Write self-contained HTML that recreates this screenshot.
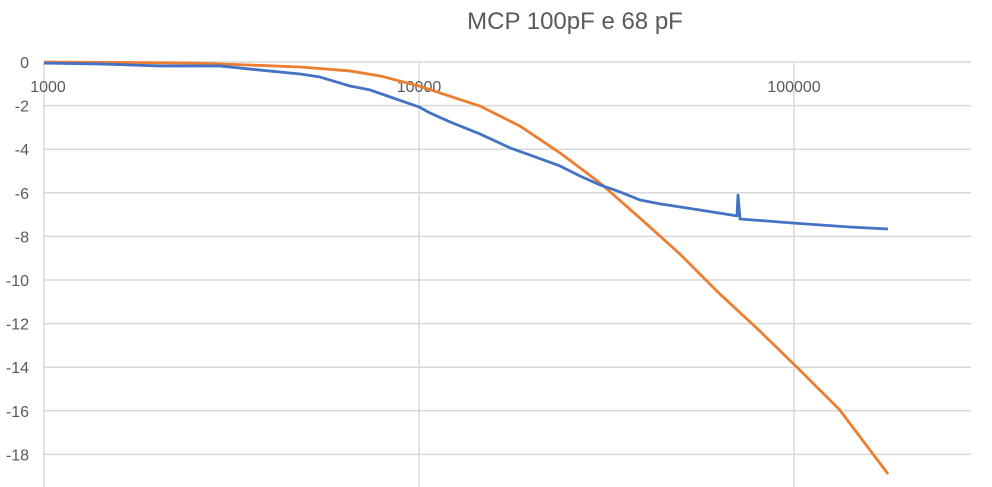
<!DOCTYPE html>
<html><head><meta charset="utf-8"><style>
body{margin:0;background:#fff;}
svg{display:block;font-family:"Liberation Sans",sans-serif;}
</style></head><body>
<svg id="chart" width="992" height="487"></svg>
<script>
const blueFreq=[1000,1410,2036,2943,3767,4822,5445,6546,7397,8366,10000,10700,12100,14540,17500,19770,23770,26860,30400,34360,38830,43950,56100,70470,70900,71800,100000,140900,178100];
const blueDb=[-0.05,-0.09,-0.18,-0.18,-0.37,-0.55,-0.69,-1.1,-1.28,-1.6,-2.06,-2.34,-2.75,-3.3,-3.94,-4.27,-4.77,-5.23,-5.64,-5.96,-6.33,-6.51,-6.79,-7.06,-6.1,-7.2,-7.39,-7.57,-7.66];
const orangeFreq=[1000,2606,4822,6546,7872,10000,11370,14540,18600,23770,30400,38830,49640,63420,81060,103600,132400,178100];
const orangeDb=[0,-0.05,-0.23,-0.41,-0.64,-1.1,-1.42,-2.02,-2.94,-4.17,-5.55,-7.16,-8.81,-10.64,-12.34,-14.13,-15.96,-18.9];
const yTicks=[0,-2,-4,-6,-8,-10,-12,-14,-16,-18];
const xTicks=[1000,10000,100000];
const NS="http://www.w3.org/2000/svg";
const svg=document.getElementById('chart');
const X=f=>44+(Math.log10(f)-3)*375;
const Y=v=>62-v*21.8;
function mk(t,a){const e=document.createElementNS(NS,t);for(const k in a)e.setAttribute(k,a[k]);svg.appendChild(e);return e;}
let t=mk('text',{x:575,y:29,'text-anchor':'middle','font-size':24,fill:'#595959'});t.textContent='MCP 100pF e 68 pF';


yTicks.forEach(v=>{
 const l=mk('line',{x1:44,x2:971,y1:Y(v),y2:Y(v),stroke:'#d9d9d9','stroke-width':1.5});
 
 
 const tx=mk('text',{x:29,y:Y(v)+6,'text-anchor':'end','font-size':16,fill:'#595959'});tx.textContent=v;
 
 
});
xTicks.forEach(f=>{
 const l=mk('line',{x1:X(f),x2:X(f),y1:62,y2:487,stroke:'#d9d9d9','stroke-width':1.5});
 
 
 const tx=mk('text',{x:X(f)+(f===1000?4:0),y:92,'text-anchor':'middle','font-size':16,fill:'#595959'});tx.textContent=f;
 
 
});
function series(fr,db,col,name){
 const p=mk('polyline',{points:fr.map((f,i)=>X(f)+','+Y(db[i])).join(' '),fill:'none',stroke:col,'stroke-width':2.8,'stroke-linejoin':'round'});
 
 
}
series(orangeFreq,orangeDb,'#ed7d31','series-68pf');
series(blueFreq,blueDb,'#4472c4','series-100pf');
</script>
</body></html>
